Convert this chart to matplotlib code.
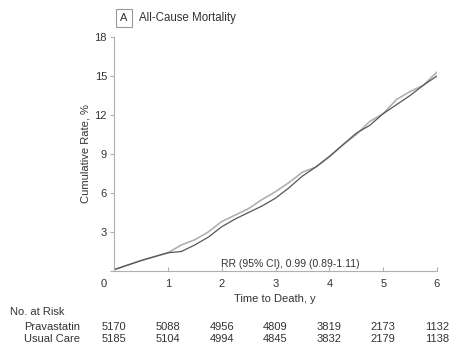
import matplotlib
matplotlib.use('Agg')
import matplotlib.pyplot as plt
import numpy as np

plt.rcParams['font.family'] = ['Liberation Sans', 'DejaVu Sans']

# cumulative rate (%)
years = [0, 0.25, 0.5, 0.75, 1.0, 1.25, 1.5, 1.75, 2.0, 2.25, 2.5, 2.75, 3.0,
         3.25, 3.5, 3.75, 4.0, 4.25, 4.5, 4.75, 5.0, 5.25, 5.5, 5.75, 6.0]
usual_care = [0.1, 0.45, 0.8, 1.1, 1.4, 1.5, 2.0, 2.6, 3.4, 4.0, 4.5, 5.0, 5.6,
              6.4, 7.3, 8.0, 8.8, 9.7, 10.6, 11.2, 12.1, 12.8, 13.5, 14.3, 15.0]
pravastatin = [0.1, 0.45, 0.8, 1.1, 1.4, 2.0, 2.4, 3.0, 3.8, 4.3, 4.8, 5.5, 6.1,
               6.8, 7.6, 8.0, 8.8, 9.7, 10.5, 11.5, 12.1, 13.2, 13.8, 14.3, 15.3]

risk_years = [0, 1, 2, 3, 4, 5, 6]
risk_prava = [5170, 5088, 4956, 4809, 3819, 2173, 1132]
risk_usual = [5185, 5104, 4994, 4845, 3832, 2179, 1138]

W, H = 463, 353
txt = '#333333'
spine = '#b0b0b0'

fig = plt.figure(figsize=(W / 100, H / 100), dpi=100)
ax = fig.add_axes([114 / W, 1 - 271 / H, (437 - 114) / W, (271 - 37) / H])

ax.plot(years, pravastatin, color='#b0b0b0', lw=1.2)
ax.plot(years, usual_care, color='#555555', lw=0.9)

ax.set_xlim(0, 6)
ax.set_ylim(0, 18)
ax.set_yticks([0, 3, 6, 9, 12, 15, 18])
ax.set_yticklabels(['', '3', '6', '9', '12', '15', '18'])
ax.set_xticks(risk_years)
ax.set_xticklabels([''] + [str(v) for v in risk_years[1:]])
for s in ['top', 'right']:
    ax.spines[s].set_visible(False)
for s in ['left', 'bottom']:
    ax.spines[s].set_color(spine)
    ax.spines[s].set_linewidth(0.8)
ax.tick_params(axis='y', direction='out', length=3, color=spine, labelsize=8, labelcolor=txt, pad=2)
ax.tick_params(axis='x', direction='in', length=3, color=spine, labelsize=8, labelcolor=txt, pad=6)
ax.set_ylabel('Cumulative Rate, %', fontsize=8, color=txt, labelpad=3)

def ftext(px, py, s, **kw):
    kw.setdefault('fontsize', 8)
    kw.setdefault('color', txt)
    return fig.text(px / W, 1 - py / H, s, **kw)

# corner zero
ftext(104, 284, '0', ha='center', va='center')
ftext(275, 299, 'Time to Death, y', ha='center', va='center')
ftext(221, 264, 'RR (95% CI), 0.99 (0.89-1.11)', ha='left', va='center', fontsize=7.5)

# panel title
ftext(124, 18, 'A', ha='center', va='center',
      bbox=dict(boxstyle='square,pad=0.35', fc='white', ec='#999999', lw=0.8))
ftext(139, 18, 'All-Cause Mortality', ha='left', va='center', fontsize=8.3)

# numbers at risk
ftext(10, 312, 'No. at Risk', ha='left', va='center')
ftext(24, 327, 'Pravastatin', ha='left', va='center')
ftext(24, 339, 'Usual Care', ha='left', va='center')
for yr, p, u in zip(risk_years, risk_prava, risk_usual):
    px = 114 + yr * (437 - 114) / 6
    ftext(px, 327, str(p), ha='center', va='center')
    ftext(px, 339, str(u), ha='center', va='center')

fig.savefig('out.png', dpi=100)
